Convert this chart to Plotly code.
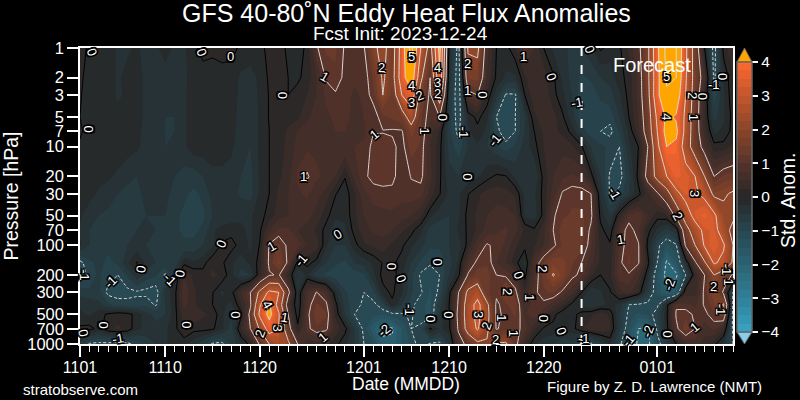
import plotly.graph_objects as go

# Eddy heat flux standardized anomalies: one row per pressure level, one value per day from 1 Nov
pressure = [1, 2, 3, 5, 7, 10, 20, 30, 50, 70, 100, 150, 200, 300, 400, 500, 700, 1000]
days = list(range(70))

p1 = [.1,-.05,-.1,-.1,-.3,-.3,-.2,-.35,-.3,-.15,
      -.3,-.3,-.05,.08,.05,.05,.08,-.05,-.1,-.1,
      .1,.1,-.05,-.1,.05,.95,1.3,1.3,.95,.9,
      .95,1.8,2.3,1.5,3.5,5.3,3,1.6,4.3,-.1,
      -1.2,2.1,2.2,.6,0,-.1,.2,.9,.5,0,
      -.3,-.4,-.6,-.5,-.3,.05,-.1,-.05,.3,.8,
      1.8,3.8,5.3,5,3.2,1.5,0,-1.2,.1,.5]
p2 = [.05,-.1,-.1,-.1,-.3,-.15,-.1,-.35,-.4,-.35,
      -.35,-.3,-.15,-.1,-.1,-.05,-.1,-.3,-.35,-.2,
      .05,.2,0,-.05,.1,.5,1.05,1.2,.9,.8,
      .8,1.3,2.1,1.6,3.6,4.7,2.2,1,3.8,-.3,
      -1.3,1.6,1.6,.5,-.05,-.3,-.3,.2,.5,.4,
      .05,-.3,-.6,-.8,-.7,-.5,-.4,-.1,.1,.6,
      1.8,3.7,5.2,5,3.1,1.6,.6,-1.1,-.2,.2]
p3 = [.02,-.1,-.1,-.1,-.3,-.2,-.1,-.35,-.4,-.4,
      -.4,-.3,-.1,-.1,-.05,-.05,-.15,-.3,-.4,-.2,
      .02,.15,0,.1,.25,.5,.8,.95,.85,.7,
      .8,1.15,2,1.4,3,3.6,1.6,.9,2.6,-.5,
      -1.3,.8,1,.2,-.4,-1.05,-1.05,0,.4,.45,
      .1,-.2,-.5,-.9,-.9,-.7,-.6,-.3,.1,.6,
      1.7,3.8,4.8,4.6,3,1.5,.3,-.9,-.3,.2]
p5 = [0,-.1,-.1,-.1,-.15,-.1,-.1,-.35,-.4,-.5,
      -.5,-.3,-.1,-.1,-.05,-.05,-.1,-.4,-.5,-.2,
      .02,.1,.15,.2,.45,.6,.7,.8,.8,.7,
      .75,.8,1.2,1.3,1.5,2.5,1.3,.8,1,-.6,
      -1.2,-.2,.1,-.2,-1,-1.25,-1,-.5,.2,.4,
      .35,.05,-.4,-.9,-1,-.9,-.9,-.5,0,.5,
      1.5,3.2,4.2,3.9,2.8,1.4,.3,-.6,-.3,.1]
p7 = [.02,-.05,-.1,-.1,-.1,-.1,-.15,-.35,-.45,-.5,
      -.5,-.3,-.1,-.1,-.1,-.1,-.15,-.4,-.5,-.2,
      0,.1,.3,.5,.6,.65,.7,.75,.75,.7,
      .7,.98,.98,.95,.95,1.6,1.3,.6,.2,-.7,
      -1.1,-.3,-.1,-.3,-.9,-1.2,-1,-.5,0,.3,
      .3,.2,-.1,-.6,-.9,-1,-1.1,-.7,-.2,.4,
      1.4,3,4.4,4.2,2.7,1.4,.4,-.3,-.2,.1]
p10 = [-.02,-.05,-.1,-.1,-.1,-.15,-.2,-.35,-.45,-.5,
       -.45,-.3,-.1,-.1,-.15,-.15,-.2,-.4,-.5,-.2,
       0,.1,.35,.6,.7,.7,.7,.7,.75,.75,
       .8,1.1,1.15,1.1,.85,1.4,1.2,.5,.1,-.6,
       -.9,-.5,-.3,-.5,-.7,-.9,-.7,-.4,-.1,.25,
       .4,.4,.3,.05,-.5,-.7,-.8,-1,-.3,0,
       1,2.8,4,3.8,2.5,1.5,.7,.1,.1,.3]
p20 = [-.02,-.1,-.15,-.2,-.3,-.4,-.5,-.4,-.4,-.4,
       -.5,-.6,-.65,-.5,-.3,-.3,-.35,-.5,-.6,-.2,
       0,.2,.4,.8,1.05,.8,.7,.5,.02,.6,
       .9,1.15,1.2,1.1,.8,1.02,1.1,.6,.05,-.4,
       -.5,-.4,-.3,-.1,.05,.02,-.3,-.5,-.5,.1,
       .5,.7,.8,.7,.1,-.5,-1.05,-1.15,-.6,.1,
       1.3,2.3,3,3.6,3.4,3,2,1,1.3,1.4]
p30 = [-.05,-.15,-.3,-.4,-.5,-.6,-.6,-.4,-.4,-.4,
       -.6,-.7,-.8,-.7,-.4,-.4,-.4,-.55,-.6,-.2,
       0,.3,.5,.7,.8,.6,.4,.02,-.15,.2,
       .7,.8,.85,.9,.85,.9,.85,.4,.02,-.3,
       -.3,-.02,.2,.35,.4,.35,.2,-.3,-.3,.1,
       .6,1.05,1.15,1.15,1,-.3,-1.05,-.9,-.5,-.1,
       .4,.9,1.6,2.8,3.3,3.1,2.8,1.8,1.9,2.1]
p50 = [-.2,-.4,-.5,-.55,-.6,-.6,-.6,-.5,-.5,-.5,
       -.7,-.8,-.85,-.8,-.5,-.5,-.4,-.3,-.3,-.1,
       .1,.4,.5,.6,.6,.4,.1,-.2,-.2,.2,
       .5,.7,.7,.7,.6,.5,.3,-.2,-.4,-.5,
       -.3,.1,.3,.5,.6,.6,.5,-.3,-.4,.1,
       .95,1.2,1.3,1.3,1.1,-.1,-.5,.2,.8,.95,
       .5,.1,.2,1.2,2.5,3.3,3.6,3.2,2.2,2.2]
p70 = [-.3,-.5,-.6,-.6,-.6,-.5,-.5,-.4,-.5,-.5,
       -.7,-.8,-.8,-.7,-.3,-.15,-.1,-.2,-.3,-.05,
       .5,.8,.8,.5,.4,.2,-.1,-.4,-.3,.1,
       .4,.55,.6,.5,.3,.1,-.2,-.6,-.7,-.5,
       -.2,.05,.3,.6,.7,.8,.6,.2,.05,.4,
       1,1.4,1.5,1.4,.9,.1,-.2,.7,1.2,.8,
       .1,-.3,-.6,-.3,1.6,2.6,3.2,3.3,2.5,1.7]
p100 = [-.2,-.5,-.6,-.7,-.6,-.5,-.4,-.5,-.6,-.6,
        -.7,-.7,-.7,-.5,-.3,.05,.1,-.1,-.3,.02,
        1.05,1.3,.9,.9,.5,.4,-.2,-.5,-.5,-.1,
        .2,.3,.4,.2,.05,-.2,-.4,-.7,-.7,-.5,
        -.4,.1,.7,1.05,.9,.7,.3,.1,.2,.5,
        .9,1.3,1.5,1.35,.8,.2,.05,.8,1.2,1.05,
        -.1,-.9,-1.3,-1.05,1.1,2,3.1,3.4,3.1,2]
p150 = [-1.1,-.8,-.7,-.8,-.7,-.3,.02,-.3,-.5,-.6,
        -.7,-.1,-.2,-.1,.2,.05,-.2,-.4,-.2,.1,
        1.1,1.6,.9,-.1,.1,-.1,-.5,-.7,-.8,-.5,
        -.4,-.2,.02,.05,-.1,-.5,-.8,-.95,-.9,-.6,
        -.2,.7,1.1,1.2,.75,.5,.1,-.3,.7,1.3,
        1.7,1.6,1.3,1,.6,.2,.1,.9,1.3,1.05,
        .1,-1,-2.1,-1.5,-.3,.9,1.9,3.1,2.8,1.9]
p200 = [-1.2,-.9,-.7,-.9,-1,-.7,-.3,-.6,-.7,-1.05,
        -.3,.5,.2,.1,.3,.2,-.2,-.6,-.5,.2,
        .95,1.05,.3,-.5,-.2,-.7,-.8,-.9,-1,-.9,
        -.8,-.3,.1,.15,-.2,-.7,-1.05,-1.2,-1,-.5,
        -.1,1.05,1.4,1.4,1,.9,.7,-.1,.7,1.4,
        2.05,1.7,1.1,.9,.3,0,.2,.9,.95,.6,
        -.2,-1.4,-2.2,-2.1,-1,.3,1,2,1.5,.9]
p300 = [-.6,-.7,-.7,-1.1,-1.2,-1.1,-1.05,-1.1,-1.2,-.4,
        -.1,.7,.3,.1,.02,-.3,-.1,.5,1,2.2,
        3.2,3,1.2,-.3,.7,1.02,.7,-.2,-.7,-.9,
        -1,-.8,-.1,.05,-.2,-.7,-.95,-1.3,-.9,-.1,
        1,2.2,2.6,1.3,1.1,1.9,1.1,.3,.9,1.2,
        1.3,.9,.6,0,-.5,-.3,-.05,.4,.6,.2,
        -.6,-1.3,-1.8,-1.6,.4,.4,1.1,1.8,.9,-1.05]
p400 = [-.3,-.3,-.4,-.7,-.8,-.9,-.9,-.8,-1.05,-.5,
        -.1,.6,.3,.1,0,-.2,-.3,.2,.9,2.9,
        4.1,2.6,.6,-.3,.8,1.3,1.1,.1,-.6,-.9,
        -1.05,-1.1,-.8,-.05,-.5,-.9,-1.2,-1.3,-.6,0,
        1.1,2.5,3.3,2.2,.9,1.2,1.4,.5,.95,.9,
        .6,.3,-.1,-.3,-.5,-.3,-.2,-.3,-1,-1.05,
        -1.1,-1.1,-.1,.95,.8,.7,1.05,1.4,2.1,-1.1]
p500 = [-.2,-.3,-.1,.05,.15,.1,-.1,-.4,-.6,-.5,
        -.1,.4,.5,.3,.2,-.2,-.5,-.1,1.2,3.2,
        4.3,3.1,1,-.2,.9,1.4,1.3,.2,-.5,-1,
        -1.1,-1.2,-1.2,-1.1,-1.05,-.95,-1.2,-1.3,-.5,-.05,
        1.2,2.5,3.3,2.3,.9,1.1,1.3,.7,.95,.5,
        .1,-.2,-.1,.1,.2,.4,.2,-.5,-1.1,-1.3,
        -1.2,-.8,-.05,1.05,1.2,.9,.9,1.2,1.5,-1.15]
p700 = [.05,.1,-.1,.2,.3,.2,-.2,-.3,-.4,-.3,
        -.1,.3,.1,.1,.05,-.2,-.6,.3,1,2.1,
        3.5,3,1.3,.1,.9,1.2,1.1,.4,.1,-.5,
        -1.1,-1.7,-2.1,-2.05,-1.5,-1,-.9,.05,-.3,-.1,
        1.1,2.4,3.1,2.2,.95,1.2,1.1,.9,.3,-.05,
        -.1,-.2,-.1,.2,.4,.5,.3,-.5,-1.3,-2,
        -2.1,-.9,-.1,.9,1.4,1,.6,.8,.4,-1.1]
p1000 = [-.6,-1.05,-1.1,-1.1,-1.2,-1.1,-.9,-.7,-.5,-.3,
         -.1,-.2,-.4,-.7,-1.05,-1.1,-.7,-.3,.1,1.1,
         2,2.5,2.2,1,.3,.4,.3,.1,-.2,-.5,
         -1,-1.2,-1.9,-1.9,-1.5,-1.2,-.8,-1.05,-1.1,-.5,
         .7,1.2,1.8,1.9,2.1,2.1,1.2,.3,-.2,-.4,
         -.5,-.7,-.6,-1.1,-1.1,-.7,-.2,-.9,-1.5,-2.1,
         -2.2,-1.2,-.6,0,.5,.6,.4,.1,-.4,-1]

anomaly = [p1, p2, p3, p5, p7, p10, p20, p30, p50, p70, p100, p150,
           p200, p300, p400, p500, p700, p1000]
assert all(len(row) == len(days) for row in anomaly)

date_tick_days = [0, 9, 19, 30, 39, 49, 61]
date_tick_text = ["1101", "1110", "1120", "1201", "1210", "1220", "0101"]
pressure_ticks = [1, 2, 3, 5, 7, 10, 20, 30, 50, 70, 100, 200, 300, 500, 700, 1000]
forecast_day = 53

anom_colors = [[0, "#38a3c4"], [.125, "#2f8099"], [.25, "#2b6373"], [.375, "#274650"],
               [.5, "#262626"], [.625, "#56332a"], [.75, "#8a4529"], [.875, "#c4562b"],
               [1, "#ff6830"]]

# Inline contour labels: day, log10(hPa), text, rotation
contour_labels = [
    (1.2, .04, "0", 70), (12.8, .04, "0", 70), (15.9, .09, "0", 0), (21.4, .48, "0", 90),
    (.9, .82, "0", 90), (.4, 2.89, "0", 80), (2.5, 2.81, "0", 90), (6.4, 2.24, "0", -80),
    (10.6, 2.29, "0", -80), (14.9, 1.99, "0", -70), (11.3, 2.81, "0", 90), (16.4, 2.7, "0", 90),
    (4, 2.94, "-1", -10), (.4, 2.3, "-1", 90), (3.3, 2.37, "-1", -45), (9.5, 2.35, "-1", 45),
    (19.8, 2.6, "4", 60), (20.9, 2.84, "3", 90), (19, 2.89, "2", -70), (21.6, 2.73, "1", 10),
    (20.2, 2.01, "1", -30), (23.6, 1.3, "1", 0), (25.8, .29, "1", 30), (31.9, .2, "2", 0),
    (35, .09, "5", 0), (35, .38, "4", 0), (35, .55, "3", 0), (35.9, .48, "2", -20),
    (37.8, .2, "4", 0), (37.8, .35, "3", 0), (37.8, .46, "2", 0), (40.9, .16, "2", 0),
    (40.9, .43, "1", 0), (42.5, .47, "0", 90), (38.4, .7, "0", 90), (46.9, .09, "1", 0),
    (49.8, .29, "0", 70), (36.4, .84, "1", 90), (31.1, .88, "1", -40), (40.5, .86, "-1", 90),
    (43.9, .93, "-1", -50), (41, 1.3, "0", 90), (52.5, .55, "-1", -10), (67, .37, "-1", 0),
    (67.9, .29, "0", 90), (62, .29, "5", 0), (62, .7, "4", 90), (64.7, .48, "2", 90),
    (65.8, .49, "0", 90), (64.9, .7, "1", 90), (65, 1.47, "3", 90), (56.5, 1.47, "-1", 60),
    (53.8, .01, "0", 70), (27.2, 1.89, "0", -30), (25.6, 2.93, "1", -40), (23.3, 2.15, "-1", -50),
    (33, 2.21, "0", 90), (33.9, 2.34, "0", 70), (37.8, 2.17, "0", 90), (34.8, 2.66, "-1", 90),
    (32.1, 2.86, "-2", -40), (37.1, 2.74, "0", 90), (38.9, 2.7, "0", 90), (42.1, 2.7, "3", 90),
    (42.9, 2.82, "2", -70), (43.9, 2.95, "2", 0), (45.1, 2.47, "2", 90), (46.3, 2.3, "0", 70),
    (44.6, 2.73, "1", 90), (45.8, 2.89, "1", 90), (48.9, 2.24, "2", 90), (47.5, 2.53, "1", 90),
    (49, 2.74, "0", 90), (50.9, 2.87, "0", 70), (57.1, 1.94, "1", -10), (63.1, 1.7, "2", 60),
    (66.9, 2.42, "2", 0), (62.3, 2.4, "-2", -70), (68.4, 2.25, "-1", 90), (68.5, 2.37, "1", 90),
    (67.7, 2.65, "-1", 90), (64.9, 2.83, "1", -40), (62.1, 2.9, "0", 90), (60, 2.87, "-2", -70),
    (57.9, 2.96, "-1", -50), (53.3, 2.94, "-1", 0),
]

halo = ", ".join(f"{a}px {b}px 0 #000" for a in (-1.5, 0, 1.5) for b in (-1.5, 0, 1.5))
LIGHT = "#dcd8d4"
AXIS_FONT = "Liberation Sans"

fig = go.Figure()

# Filled anomaly bands every 0.25
fig.add_trace(go.Contour(
    x=days, y=pressure, z=anomaly, zmin=-4, zmax=4, colorscale=anom_colors,
    contours=dict(start=-4, end=4, size=.25, coloring="fill", showlines=False),
    line=dict(width=0, smoothing=0), hoverinfo="skip",
    colorbar=dict(
        x=(737 - 80) / 653, xanchor="left", xpad=0, thickness=15, thicknessmode="pixels",
        y=(344 - 197) / 296, yanchor="middle", ypad=0, len=270, lenmode="pixels",
        outlinecolor="#666666", outlinewidth=1.5, ticks="outside", ticklen=6, tickwidth=1.5,
        tickcolor="white", tickvals=[-4, -3, -2, -1, 0, 1, 2, 3, 4],
        ticktext=["\u22124", "\u22123", "\u22122", "\u22121", "0", "1", "2", "3", "4"],
        tickfont=dict(family=AXIS_FONT, size=15.5, color="white"),
    ),
))
# Values beyond the top of the scale: the constraint shades what lies outside "< 4"
fig.add_trace(go.Contour(
    x=days, y=pressure, z=anomaly, showscale=False, hoverinfo="skip", fillcolor="#ffa500",
    contours=dict(type="constraint", operation="<", value=4), line=dict(width=0, smoothing=0),
))
# Integer contours: black zero, solid positive, dashed negative
for start, end, color, dash in ((0, .5, "black", "solid"), (1, 5, LIGHT, "solid"), (-4, -1, LIGHT, "3px,2px")):
    fig.add_trace(go.Contour(
        x=days, y=pressure, z=anomaly, showscale=False, hoverinfo="skip",
        contours=dict(start=start, end=end, size=1, coloring="none"),
        line=dict(color=color, width=1, dash=dash, smoothing=0),
    ))

annotations = [
    dict(x=day, y=logp, text=text, textangle=angle, showarrow=False,
         font=dict(family=AXIS_FONT, size=13, color="white", shadow=halo))
    for day, logp, text, angle in contour_labels
]


def page_text(text, x, y, size, anchor="center", angle=0):
    return dict(text=text, xref="paper", yref="paper", x=(x - 80) / 653, y=(344 - y) / 296,
                xanchor=anchor, yanchor="middle", showarrow=False, textangle=angle,
                font=dict(family=AXIS_FONT, size=size, color="white"))


annotations += [
    page_text("GFS 40-80\u02daN Eddy Heat Flux Anomalies", 406, 13, 25),
    page_text("Fcst Init: 2023-12-24", 400, 34, 19),
    page_text("Forecast", 652, 65, 20),
    page_text("stratobserve.com", 21, 389, 15, "left"),
    page_text("Figure by Z. D. Lawrence (NMT)", 764, 386, 15, "right"),
    page_text("Date (MMDD)", 406, 384, 17.5),
    page_text("Std. Anom.", 788, 201, 19.5, angle=-90),
]

shapes = [dict(type="line", x0=forecast_day, x1=forecast_day, y0=0, y1=1, yref="paper", xref="x",
               line=dict(color="white", width=2, dash="dash"))]
# Colorbar band separators and over/under triangles
for level in [i / 4 for i in range(-15, 16)]:
    yp = (344 - (197 - level * 33.75)) / 296
    shapes.append(dict(type="line", xref="paper", yref="paper", x0=(737 - 80) / 653, x1=(752 - 80) / 653,
                       y0=yp, y1=yp, line=dict(color="#666666", width=1)))


def triangle(tip, base, fill):
    xl, xr, xm = (737 - 80) / 653, (752 - 80) / 653, (744.5 - 80) / 653
    yb, yt = (344 - base) / 296, (344 - tip) / 296
    return dict(type="path", xref="paper", yref="paper", fillcolor=fill,
                path=f"M {xl} {yb} L {xr} {yb} L {xm} {yt} Z", line=dict(color="#666666", width=1))


shapes += [triangle(48, 62, "#ffa500"), triangle(344, 332, "#87ceeb")]

fig.update_layout(
    width=800, height=400, paper_bgcolor="black", plot_bgcolor="#262626",
    margin=dict(l=80, r=67, t=48, b=56, autoexpand=False), showlegend=False,
    annotations=annotations, shapes=shapes,
    font=dict(family=AXIS_FONT, color="white"),
    xaxis=dict(
        range=[0, 69], tickmode="array", tickvals=date_tick_days, ticktext=date_tick_text,
        ticks="outside", ticklen=11, tickwidth=1.5, tickcolor="white", ticklabelstandoff=-3,
        minor=dict(dtick=1, tick0=0, ticks="outside", ticklen=6, tickwidth=1.2, tickcolor="white"),
        showline=True, linecolor="white", linewidth=1.5, mirror=True, showgrid=False, zeroline=False,
        tickfont=dict(size=16, color="white"),
    ),
    yaxis=dict(
        type="log", range=[3, 0], tickmode="array", tickvals=pressure_ticks,
        ticktext=[str(p) for p in pressure_ticks],
        ticks="outside", ticklen=11, tickwidth=1.5, tickcolor="white",
        showline=True, linecolor="white", linewidth=1.5, mirror=True, showgrid=False, zeroline=False,
        tickfont=dict(size=16.5, color="white"),
        title=dict(text="Pressure [hPa]", font=dict(size=19.5, color="white"), standoff=6),
    ),
)
fig.write_html("out.html")
